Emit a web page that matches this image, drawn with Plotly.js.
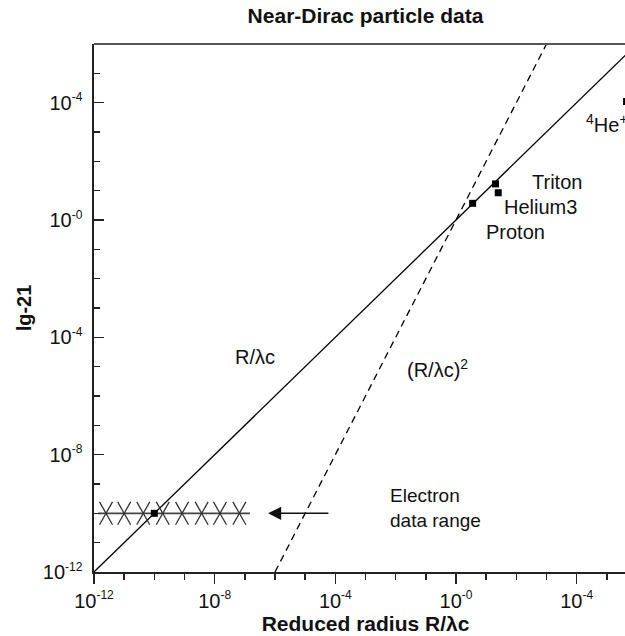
<!DOCTYPE html>
<html><head><meta charset="utf-8">
<script src="https://cdn.plot.ly/plotly-3.0.1.min.js"></script>
<style>html,body{margin:0;padding:0;overflow:hidden;background:#fff;width:625px;height:636px}#chart{width:640px;height:636px}</style>
</head><body><div id="chart"></div><script>
// Guide lines
const linearX = [1e-12, 1e6];
const linearY = [1e-12, 1e6];
const squareX = [1e-6, 1e3];
const squareY = [1e-12, 1e6];
// Particles (black squares)
const particleNames = ['Electron', 'Proton', 'Triton', 'Helium3', '4He+'];
const particleX = [1e-10, 3.55, 20.4, 25.1, 4.5e5];
const particleY = [1e-10, 3.7, 17, 8.5, 1.1e4];
// Electron data range crosses
const electronX = [2.5e-12, 1.0e-11, 4.3e-11, 1.9e-10, 8.3e-10, 3.7e-9, 1.5e-8, 6.6e-8];
const electronY = [1e-10, 1e-10, 1e-10, 1e-10, 1e-10, 1e-10, 1e-10, 1e-10];
const electronSpanX = [1.35e-12, 1.48e-7];
const electronSpanY = [1e-10, 1e-10];
// Arrow (tail -> head)
const arrowX = [6.6e-5, 5.9e-7];
const arrowY = [1e-10, 1e-10];
// Ticks
const majorVals = [1e-12, 1e-8, 1e-4, 1, 1e4];
const majorExp = ['-12', '-8', '-4', '-0', '-4'];
const minorVals = [1e-11,1e-10,1e-9,1e-7,1e-6,1e-5,1e-3,1e-2,1e-1,1e1,1e2,1e3,1e5,1e6];

const FONT = 'Liberation Sans, Arial, sans-serif';
const lg = v => Math.log10(v);
const majorText = majorExp.map(e => '10<sup><span style="font-size:12px">' + e + '</span></sup>');

// Cross glyphs (tall X) built around each electron point, in log space
const CROSS_HW = 0.215, CROSS_HH = 0.39;
const crossX = [], crossY = [];
electronX.forEach((xv, i) => {
  const lx = lg(xv), ly = lg(electronY[i]);
  crossX.push(10 ** (lx - CROSS_HW), 10 ** (lx + CROSS_HW), null, 10 ** (lx - CROSS_HW), 10 ** (lx + CROSS_HW), null);
  crossY.push(10 ** (ly - CROSS_HH), 10 ** (ly + CROSS_HH), null, 10 ** (ly + CROSS_HH), 10 ** (ly - CROSS_HH), null);
});

const traces = [
  {x: linearX, y: linearY, mode: 'lines', line: {color: '#000', width: 1.3}, hoverinfo: 'skip'},
  {x: squareX, y: squareY, mode: 'lines', line: {color: '#000', width: 1.3, dash: '7px,5px'}, hoverinfo: 'skip'},
  {x: electronSpanX, y: electronSpanY, mode: 'lines', line: {color: '#444', width: 1.8}, hoverinfo: 'skip'},
  {x: crossX, y: crossY, mode: 'lines', line: {color: '#333', width: 1.3}, connectgaps: false, hoverinfo: 'skip'},
  {x: particleX, y: particleY, mode: 'markers', text: particleNames, marker: {symbol: 'square', size: 7, color: '#000'}}
];

const ann = (txt, xv, yv, extra) => Object.assign({text: txt, x: lg(xv), y: lg(yv), xref: 'x', yref: 'y', xanchor: 'left', yanchor: 'middle', showarrow: false, font: {family: FONT, size: 20, color: '#111'}}, extra || {});

const layout = {
  width: 640, height: 636,
  margin: {l: 94, r: 3, t: 44, b: 64},
  paper_bgcolor: '#fff', plot_bgcolor: '#fff',
  showlegend: false,
  font: {family: FONT, color: '#111', size: 20},
  title: {text: 'Near-Dirac particle data', font: {family: FONT, size: 21, weight: 'bold', color: '#111'}, xref: 'paper', x: 0.5, xanchor: 'center', yref: 'container', y: 0.975, yanchor: 'middle'},
  xaxis: {
    type: 'log', range: [-12, 6], showgrid: false, zeroline: false,
    showline: true, linecolor: '#222', linewidth: 1.6, mirror: false,
    tickmode: 'array', tickvals: majorVals, ticktext: majorText,
    ticks: 'outside', ticklen: 10, tickwidth: 1.4, tickcolor: '#222',
    minor: {tickmode: 'array', tickvals: minorVals, ticks: 'outside', ticklen: 6, tickwidth: 1.4, tickcolor: '#222', showgrid: false},
    tickfont: {family: FONT, size: 20, color: '#111'},
    title: {text: 'Reduced radius R/λc', font: {family: FONT, size: 21, weight: 'bold', color: '#111'}, standoff: 6}
  },
  yaxis: {
    type: 'log', range: [-12, 6], showgrid: false, zeroline: false,
    showline: true, linecolor: '#222', linewidth: 1.6, mirror: false,
    tickmode: 'array', tickvals: majorVals, ticktext: majorText,
    ticks: 'inside', ticklen: 10, tickwidth: 1.4, tickcolor: '#222',
    minor: {tickmode: 'array', tickvals: minorVals, ticks: 'inside', ticklen: 6, tickwidth: 1.4, tickcolor: '#222', showgrid: false},
    tickfont: {family: FONT, size: 20, color: '#111'},
    ticklabelstandoff: 6,
    title: {text: 'lg-21', font: {family: FONT, size: 20, weight: 'bold', color: '#111'}, standoff: 6}
  },
  shapes: [
    {type: 'line', xref: 'paper', yref: 'paper', x0: 0, x1: 1, y0: 1, y1: 1, line: {color: '#555', width: 2.2}}
  ],
  annotations: [
    ann('R/λc', 4.1e-8, 2.1e-5),
    ann('(R/λc)<sup>2</sup>', 2.0e-2, 8.9e-6),
    ann('Triton', 280, 19.5),
    ann('Helium3', 33, 2.75),
    ann('Proton', 8.5, 0.39),
    ann('<sup>4</sup>He<sup>+</sup>', 1.7e4, 2.0e3),
    ann('Electron<br>data range', 5.5e-3, 1.5e-10, {align: 'left', font: {family: FONT, size: 19, color: '#111'}}),
    {x: lg(arrowX[1]), y: lg(arrowY[1]), ax: lg(arrowX[0]), ay: lg(arrowY[0]), xref: 'x', yref: 'y', axref: 'x', ayref: 'y', text: '', showarrow: true, arrowhead: 2, arrowsize: 1.75, arrowwidth: 1.5, arrowcolor: '#111'}
  ]
};

Plotly.newPlot('chart', traces, layout, {staticPlot: true, displayModeBar: false});
</script></body></html>
